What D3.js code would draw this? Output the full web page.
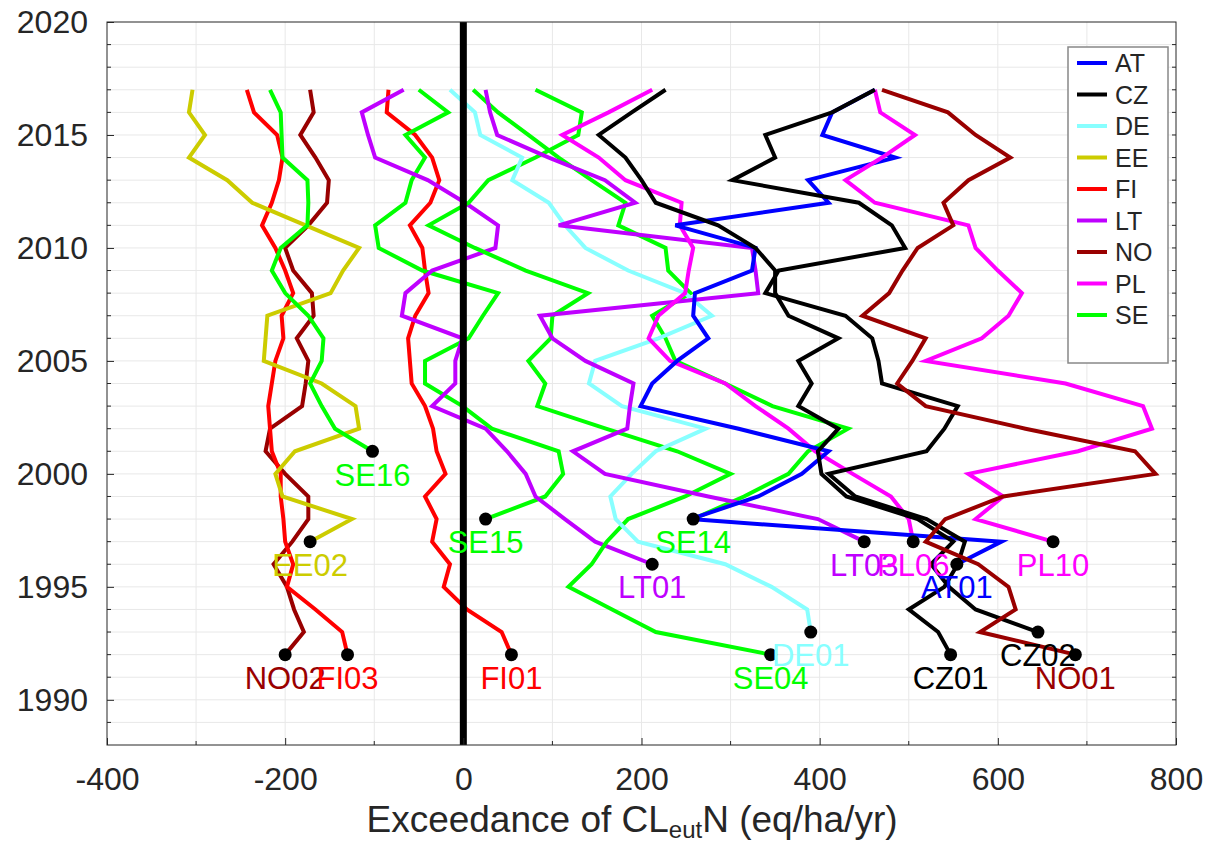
<!DOCTYPE html>
<html>
<head>
<meta charset="utf-8">
<script src="https://cdn.jsdelivr.net/npm/d3@7"></script>
<style>
  body { margin: 0; background: white; }
  text { font-family: "Liberation Sans", Arial, sans-serif; }
</style>
</head>
<body>
<script>
// exceedance of CLeutN per site, one value per year from the start year to 2017

const countries = ["AT", "CZ", "DE", "EE", "FI", "LT", "NO", "PL", "SE"];
const countryColors = ["#0000ff", "#000000", "#88ffff", "#cccc00", "#ff0000", "#bf00ff", "#990000", "#ff00ff", "#00ff00"];

const siteNames = ["NO02", "FI03", "EE02", "SE16", "FI01", "SE15", "LT01", "SE14", "SE04", "DE01", "LT03", "PL06", "AT01", "PL10", "CZ01", "CZ02", "NO01"];
const startYears = [1992, 1992, 1997, 2001, 1992, 1998, 1996, 1998, 1992, 1993, 1997, 1997, 1996, 1997, 1992, 1993, 1992];

const NO02 = [-200, -179, -190, -198, -213, -192, -174, -174, -200, -222, -217, -181, -177, -174, -187, -168, -170, -191, -200, -174, -153, -151, -166, -183, -168, -172];
const FI03 = [-130, -136, -166, -198, -191, -200, -202, -205, -205, -215, -217, -219, -215, -211, -202, -204, -191, -200, -211, -226, -215, -207, -203, -209, -235, -243];
const EE02 = [-172, -125, -203, -211, -189, -117, -121, -159, -224, -222, -220, -149, -135, -117, -177, -237, -265, -308, -290, -308, -304];
const SE16 = [-102, -144, -159, -172, -159, -157, -174, -200, -215, -205, -175, -174, -175, -203, -204, -205, -217];
const FI01 = [54, 43, 4, -22, -15, -35, -30, -43, -20, -30, -34, -43, -58, -60, -62, -54, -39, -43, -46, -60, -37, -27, -35, -54, -86, -84];
const SE15 = [25, 92, 112, 107, 32, -1, -43, -43, 6, 22, 39, -46, -95, -99, -65, -58, -43, -65, -17, -50];
const LT01 = [212, 148, 114, 81, 70, 49, 25, -35, -9, -9, -1, -69, -65, -35, 36, 39, 2, -40, -99, -107, -114, -67];
const SE14 = [258, 315, 365, 387, 432, 347, 294, 238, 227, 212, 255, 230, 227, 174, 182, 144, 107, 73, 39, 11];
const SE04 = [345, 216, 167, 118, 144, 161, 185, 249, 300, 240, 160, 83, 92, 73, 98, 100, 140, 70, 13, -39, 6, 28, 81, 129, 133, 81];
const DE01 = [390, 386, 346, 294, 196, 171, 165, 189, 216, 272, 178, 141, 148, 219, 279, 249, 185, 137, 114, 96, 55, 66, 19, 13, -15];
const LT03 = [450, 398, 275, 159, 123, 184, 187, 191, 137, 100, 86, 331, 328, 324, 107, 193, 159, 96, 38, 30, 25];
const PL06 = [505, 500, 480, 437, 395, 365, 328, 294, 232, 208, 219, 249, 253, 258, 243, 245, 182, 152, 111, 163, 212];
const AT01 = [554, 604, 255, 331, 380, 410, 309, 199, 212, 240, 275, 258, 260, 324, 328, 238, 410, 387, 485, 403, 414, 462];
const PL10 = [662, 575, 606, 567, 690, 773, 763, 676, 519, 582, 612, 627, 600, 575, 567, 462, 429, 470, 507, 468, 462];
const CZ01 = [547, 533, 500, 540, 555, 563, 520, 440, 410, 520, 540, 555, 470, 466, 459, 429, 339, 354, 496, 481, 444, 302, 350, 339, 414, 462];
const CZ02 = [645, 575, 545, 525, 550, 510, 430, 402, 398, 421, 376, 391, 376, 421, 365, 350, 350, 328, 286, 216, 200, 182, 152, 189, 227];
const NO01 = [687, 580, 620, 612, 578, 519, 541, 606, 777, 754, 631, 519, 487, 504, 519, 448, 478, 493, 510, 550, 539, 567, 614, 575, 544, 470];

const siteValues = [NO02, FI03, EE02, SE16, FI01, SE15, LT01, SE14, SE04, DE01, LT03, PL06, AT01, PL10, CZ01, CZ02, NO01];

const xTicks = [-400, -200, 0, 200, 400, 600, 800];
const yTicks = [1990, 1995, 2000, 2005, 2010, 2015, 2020];

const W = 1212, H = 847;
const plotLeft = 107, plotRight = 1176, plotTop = 22, plotBottom = 745;
const axisGray = "#262626";

let svg = d3.select("body").append("svg")
  .attr("width", W)
  .attr("height", H);

let x = d3.scaleLinear().domain([-400, 800]).range([plotLeft, plotRight]);
let y = d3.scaleLinear().domain([1988, 2020]).range([plotBottom, plotTop]);

// grid: every 100 and every year
svg.append("g")
  .selectAll("line")
  .data(d3.range(-300, 800, 100))
  .join("line")
  .attr("x1", d => x(d)).attr("x2", d => x(d))
  .attr("y1", plotTop).attr("y2", plotBottom)
  .style("stroke", "#e8e8e8").style("stroke-width", 1);
svg.append("g")
  .selectAll("line")
  .data(d3.range(1989, 2020))
  .join("line")
  .attr("x1", plotLeft).attr("x2", plotRight)
  .attr("y1", d => y(d)).attr("y2", d => y(d))
  .style("stroke", "#e8e8e8").style("stroke-width", 1);

// site lines
let sites = siteNames.map((name, i) => ({
  name: name,
  color: countryColors[countries.indexOf(name.slice(0, 2))],
  points: siteValues[i].map((v, j) => [v, startYears[i] + j])
}));

let line = d3.line().x(d => x(d[0])).y(d => y(d[1]));

svg.append("g")
  .selectAll("path")
  .data(sites)
  .join("path")
  .attr("d", d => line(d.points))
  .style("fill", "none")
  .style("stroke", d => d.color)
  .style("stroke-width", 4)
  .style("stroke-linejoin", "miter");

// zero line
svg.append("line")
  .attr("x1", x(0)).attr("x2", x(0))
  .attr("y1", plotTop).attr("y2", plotBottom)
  .style("stroke", "black")
  .style("stroke-width", 7);

// start points and site labels
svg.append("g")
  .selectAll("circle")
  .data(sites)
  .join("circle")
  .attr("cx", d => x(d.points[0][0]))
  .attr("cy", d => y(d.points[0][1]))
  .attr("r", 6.5)
  .style("fill", "black");

svg.append("g")
  .selectAll("text")
  .data(sites)
  .join("text")
  .attr("x", d => x(d.points[0][0]))
  .attr("y", d => y(d.points[0][1] - 1.05))
  .attr("text-anchor", "middle")
  .attr("dominant-baseline", "central")
  .style("font-size", "31px")
  .style("fill", d => d.color)
  .text(d => d.name);

// axes
let xAxis = d3.axisBottom(x).tickValues(xTicks).tickFormat(d => String(d)).tickSize(-7).tickPadding(22);
let yAxis = d3.axisLeft(y).tickValues(yTicks).tickFormat(d => String(d)).tickSize(-7).tickPadding(19);

let gx = svg.append("g").attr("transform", `translate(0,${plotBottom})`).call(xAxis);
let gy = svg.append("g").attr("transform", `translate(${plotLeft},0)`).call(yAxis);
[gx, gy].forEach(g => {
  g.select(".domain").remove();
  g.selectAll("line").style("stroke", axisGray);
  g.selectAll("text").style("font-size", "32px").style("fill", axisGray)
    .style("font-family", "'Liberation Sans', Arial, sans-serif");
});

// minor ticks
svg.append("g")
  .selectAll("line")
  .data(d3.range(1989, 2020).filter(d => d % 5 !== 0))
  .join("line")
  .attr("x1", plotLeft).attr("x2", plotLeft + 4)
  .attr("y1", d => y(d)).attr("y2", d => y(d))
  .style("stroke", axisGray);
svg.append("g")
  .selectAll("line")
  .data(d3.range(1989, 2020))
  .join("line")
  .attr("x1", plotRight - 4).attr("x2", plotRight)
  .attr("y1", d => y(d)).attr("y2", d => y(d))
  .style("stroke", axisGray);
svg.append("g")
  .selectAll("line")
  .data(d3.range(-300, 800, 200))
  .join("line")
  .attr("x1", d => x(d)).attr("x2", d => x(d))
  .attr("y1", plotBottom).attr("y2", plotBottom - 4)
  .style("stroke", axisGray);

svg.append("rect")
  .attr("x", plotLeft).attr("y", plotTop)
  .attr("width", plotRight - plotLeft).attr("height", plotBottom - plotTop)
  .style("fill", "none")
  .style("stroke", axisGray)
  .style("stroke-width", 1);

// x label
let xLabel = svg.append("text")
  .attr("x", 632)
  .attr("y", 832)
  .attr("text-anchor", "middle")
  .style("font-size", "37px")
  .style("fill", axisGray);
xLabel.append("tspan").text("Exceedance of CL");
xLabel.append("tspan").attr("dy", 6).style("font-size", "24px").text("eut");
xLabel.append("tspan").attr("dy", -6).text("N (eq/ha/yr)");

// legend
let legend = svg.append("g").attr("transform", "translate(1068,47)");
legend.append("rect")
  .attr("width", 100).attr("height", 316)
  .style("fill", "white")
  .style("stroke", "#888")
  .style("stroke-width", 1.5);
let items = legend.selectAll("g")
  .data(countries)
  .join("g")
  .attr("transform", (d, i) => `translate(0,${16 + i * 31.5})`);
items.append("line")
  .attr("x1", 9).attr("x2", 39)
  .style("stroke", (d, i) => countryColors[i])
  .style("stroke-width", 4);
items.append("text")
  .attr("x", 47)
  .attr("dominant-baseline", "central")
  .style("font-size", "25px")
  .style("fill", axisGray)
  .text(d => d);
</script>
</body>
</html>
